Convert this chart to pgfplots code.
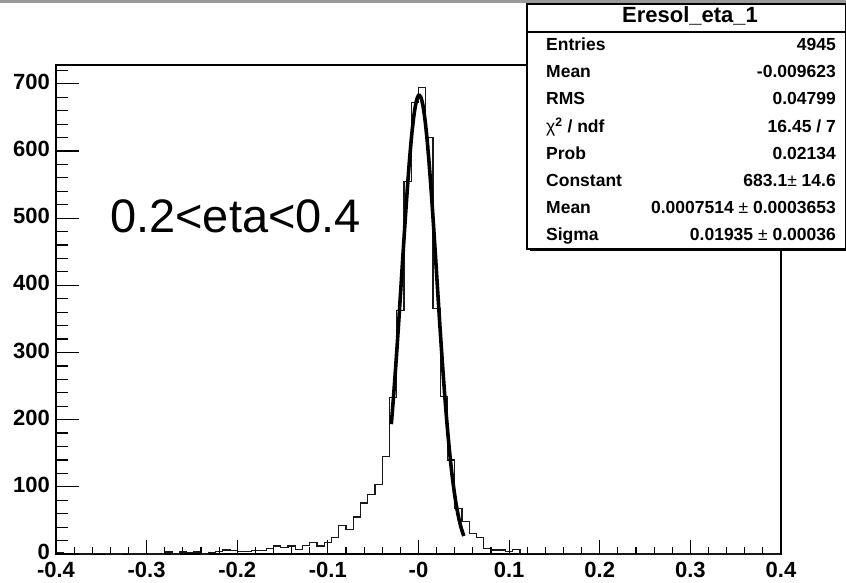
\documentclass[border=0pt]{standalone}
\usepackage{fontspec}
\setmainfont{Liberation Sans}
\usepackage{pgfplots}
\pgfplotsset{compat=1.18}
\begin{document}
\begin{tikzpicture}[x=1bp,y=1bp]
\useasboundingbox (0,0) rectangle (846,583);
\fill[white] (0,0) rectangle (846,583);
\fill[black!40] (0,580) rectangle (846,583);
\begin{axis}[at={(56bp,29bp)}, anchor=south west, scale only axis,
  width=725bp, height=489bp,
  xmin=-0.4, xmax=0.4, ymin=0, ymax=728,
  axis line style={line width=1.3bp},
  xtick={-0.4,-0.3,-0.2,-0.1,0,0.1,0.2,0.3,0.4},
  xticklabels={-0.4,-0.3,-0.2,-0.1,-0,0.1,0.2,0.3,0.4},
  ytick={0,100,200,300,400,500,600,700},
  yticklabels={0,100,200,300,400,500,600,700},
  major tick length=0pt, minor tick num=0,
  tick label style={font=\fontsize{22bp}{26bp}\selectfont\bfseries, inner sep=0pt},
  xticklabel style={yshift=-7.7bp},
  yticklabel style={yshift=2bp, xshift=-6bp},
  clip=false]
\addplot[const plot, line width=1.2bp, black!90] table {
x y
-0.400 2
-0.392 0
-0.384 0
-0.376 0
-0.368 0
-0.360 1
-0.352 1
-0.344 0
-0.336 0
-0.328 1
-0.320 0
-0.312 0
-0.304 0
-0.296 0
-0.288 0
-0.280 3
-0.272 0
-0.264 3
-0.256 2
-0.248 3
-0.240 0
-0.232 2
-0.224 4
-0.216 6
-0.208 5
-0.200 4
-0.192 4
-0.184 5
-0.176 5
-0.168 8
-0.160 12
-0.152 10
-0.144 12
-0.136 7
-0.128 13
-0.120 17
-0.112 12
-0.104 17
-0.096 24
-0.088 42
-0.080 37
-0.072 55
-0.064 76
-0.056 89
-0.048 103
-0.040 145
-0.032 233
-0.024 363
-0.016 555
-0.008 672
0.000 694
0.008 620
0.016 366
0.024 234
0.032 140
0.040 68
0.048 48
0.056 31
0.064 25
0.072 8
0.080 6
0.088 6
0.096 4
0.104 7
0.112 1
0.120 1
0.128 1
0.136 1
0.144 0
0.400 0
};
\addplot[smooth, line width=3.6bp, black] table {
x y
-0.0300 193.3
-0.0275 235.3
-0.0250 281.8
-0.0225 331.8
-0.0200 384.4
-0.0175 437.8
-0.0150 490.5
-0.0125 540.3
-0.0100 585.4
-0.0075 623.7
-0.0050 653.6
-0.0025 673.5
0.0000 682.6
0.0025 680.3
0.0050 666.8
0.0075 642.8
0.0100 609.3
0.0125 568.1
0.0150 520.9
0.0175 469.7
0.0200 416.5
0.0225 363.2
0.0250 311.5
0.0275 262.7
0.0300 217.9
0.0325 177.8
0.0350 142.6
0.0375 112.5
0.0400 87.3
0.0425 66.6
0.0450 50.0
0.0475 36.9
0.0500 26.8
};
\end{axis}
% ticks
\foreach \i in {0,...,40}{
  \pgfmathsetmacro{\len}{mod(\i,5)==0 ? 14 : 6.5}
  \draw[line width=1.2bp] (56+\i*18.125,29) -- ++(0,\len);
}
\foreach \j in {0,...,36}{
  \pgfmathsetmacro{\len}{mod(\j,5)==0 ? 23 : 12}
  \draw[line width=1.2bp] (56,29+\j*13.434) -- ++(\len,0);
}
% label
\node[anchor=base west, inner sep=0pt, font=\fontsize{47bp}{50bp}\selectfont] at (110,350) {0.2<eta<0.4};
% stats box
\fill[black] (530,331.5) rectangle (846,334);
\draw[fill=white, line width=1.2bp] (527,579) rectangle (845.4,334);
\draw[line width=1.2bp] (527,551) -- (845.4,551);
\node[anchor=base, inner sep=0pt, font=\fontsize{22bp}{26bp}\selectfont\bfseries] at (690,560.5) {Eresol\_eta\_1};
\begin{scope}[every node/.style={inner sep=0pt, font=\fontsize{17.5bp}{20bp}\selectfont\bfseries}]
\node[anchor=base west] at (546,532) {Entries};
\node[anchor=base east] at (836,532) {4945};
\node[anchor=base west] at (546,505) {Mean};
\node[anchor=base east] at (836,505) {-0.009623};
\node[anchor=base west] at (546,478) {RMS};
\node[anchor=base east] at (836,478) {0.04799};
\node[anchor=base west] at (546,450.5) {{\mdseries χ}\textsuperscript{2} / ndf};
\node[anchor=base east] at (836,450.5) {16.45 / 7};
\node[anchor=base west] at (546,423.5) {Prob};
\node[anchor=base east] at (836,423.5) {0.02134};
\node[anchor=base west] at (546,396.5) {Constant};
\node[anchor=base east] at (836,396.5) {683.1{\mdseries ±} 14.6};
\node[anchor=base west] at (546,369.5) {Mean};
\node[anchor=base east] at (836,369.5) {0.0007514 {\mdseries ±} 0.0003653};
\node[anchor=base west] at (546,342.5) {Sigma};
\node[anchor=base east] at (836,342.5) {0.01935 {\mdseries ±} 0.00036};
\end{scope}
\end{tikzpicture}
\end{document}
